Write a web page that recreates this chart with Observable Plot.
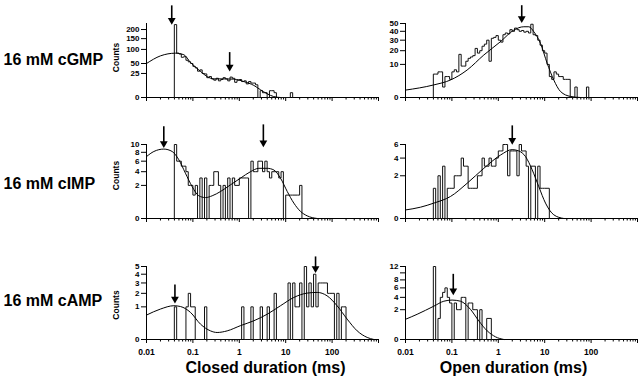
<!DOCTYPE html>
<html><head><meta charset="utf-8">
<script src="https://cdn.jsdelivr.net/npm/d3@7"></script>
<script src="https://cdn.jsdelivr.net/npm/@observablehq/plot@0.6"></script>
<style>
body{margin:0;background:#fff;}
#chart{position:relative;width:640px;height:380px;overflow:hidden;background:#fff;}
#chart svg{position:absolute;overflow:visible;}
</style></head><body><div id="chart"></div>
<script>
// ---- tick labels ----
const xMajor = [0.01, 0.1, 1, 10, 100, 1000];
const xMajorLabels = ["0.01", "0.1", "1", "10", "100", ""];
const yTicksCGMPClosed = [0, 25, 50, 100, 150, 200];
const yTicksCGMPOpen = [0, 10, 20, 30, 40, 50];
const yTicksCIMPClosed = [0, 2, 4, 6, 8, 10];
const yTicksCIMPOpen = [0, 2, 4, 6];
const yTicksCAMPClosed = [0, 1, 2, 3, 4, 5];
const yTicksCAMPOpen = [0, 2, 4, 6, 8, 10, 12];
const rowLabels = ["16 mM cGMP", "16 mM cIMP", "16 mM cAMP"];
const xTitles = ["Closed duration (ms)", "Open duration (ms)"];

// ---- histogram counts (log bins, 20 per decade; first bin index = -28 -> 0.04 ms) ----
const firstBin = -28;
const cGMPClosedCounts = [230,85,82,70,72,60,55,50,42,38,30,33,25,24,17,19,15,13,16,12,14,17,15,12,18,16,10,13,14,11,12,8,11,9,9,7,0,2,1,1,0,2,2,1,0,0,0,0,0,0,1];
const cGMPOpenCounts = [5,5,6,6,1,4,4,3,6,7,6,17,9,9,12,14,15,16,22,18,20,24,26,30,12,32,33,35,30,28,36,38,37,42,40,44,42,40,41,39,40,38,49,36,35,30,25,20,18,10,4,3,6,5,4,4,3,3,3,0,0,1,0,0,0,0,1];
const cIMPClosedCounts = [10,6,6,5,5,4,2,2,1,2,0,3,0,3,0,2,2,4,4,2,0,2,0,3,0,3,2,2,3,3,3,3,0,6,4,4,6,6,4,6,4,3,4,4,4,3,4,0,1,1,1,1,1,1,2];
const cIMPOpenCounts = [1,0,2,0,3,0,1,1,1,2,2,2,4,3,3,1,1,1,1,2,2,4,3,3,4,3,3,4,5,5,6,6,2,5,5,5,2,6,5,5,3,0,3,3,0,3,1,1,1,1];
const cAMPClosedCounts = [1,0,0,0,0,1,2,1,1,0,0,0,0,1,0,0,0,0,0,0,0,0,0,0,0,0,0,0,0,1,0,0,0,1,0,0,0,1,0,0,1,0,0,2,0,0,0,0,0,3,0,3,1,1,3,0,5,1,3,1,4,1,3,3,3,3,2,2,2,0,2,0,1,1];
const cAMPOpenCounts = [12,0,1,4,5,6,4,3,0,3,2,2,4,4,0,3,3,2,2,0,2,0,0,1,1];

// ---- fitted curves (duration ms, counts) ----
const cGMPClosedFitT = [0.01,0.02,0.042,0.064,0.089,0.134,0.203,0.28,0.46,0.76,1.25,2.06,2.86,3.98,5.5,7.7];
const cGMPClosedFitN = [50,75,85,79,53,33,19,15,15,14.6,11,6.3,2.6,0.6,0.04,0];
const cGMPOpenFitT = [0.01,0.0408,0.0934,0.213,0.488,1.11,2.16,3.55,4.55,5.83,8.1,11.3,15.7,21.9,36,59];
const cGMPOpenFitN = [0.5,1.45,2.8,6.9,16.5,28.4,41.5,45.7,45.7,39.5,26.8,10.7,2.8,0.33,0.01,0];
const cIMPClosedFitT = [0.01,0.0144,0.0236,0.0357,0.0498,0.069,0.096,0.134,0.187,0.26,0.394,0.646,1.06,1.74,2.64,3.98,5.55,7.73,10.8,15,20.9,29,47.7];
const cIMPClosedFitN = [7,8.2,8.8,8.2,6.3,3.75,1.87,0.94,0.8,0.94,1.33,2.07,2.97,4.0,4.6,4.6,4.3,2.97,1.33,0.43,0.09,0.013,0];
const cIMPOpenFitT = [0.01,0.021,0.0408,0.093,0.213,0.488,1.11,1.99,2.77,3.86,5.37,7.48,10.4,15.7,25.8];
const cIMPOpenFitN = [0.08,0.14,0.26,0.53,1.36,2.76,4.4,5.2,5.0,4.2,2.6,1.1,0.26,0.015,0];
const cAMPClosedFitT = [0.01,0.02,0.0388,0.054,0.0887,0.146,0.239,0.333,0.548,1.06,2.06,3.99,7.73,15,29,47.7,78,128,211,347,570,794];
const cAMPClosedFitN = [0.56,0.87,1.07,1.02,0.69,0.22,0.07,0.046,0.07,0.18,0.33,0.6,1.07,1.66,2.02,2.08,1.79,1.07,0.39,0.07,0.004,0];
const cAMPOpenFitT = [0.01,0.0178,0.0408,0.067,0.101,0.153,0.251,0.38,0.575,0.87,1.32];
const cAMPOpenFitN = [0.92,1.43,2.5,3.3,3.5,3.3,2.05,0.78,0.17,0.016,0];

// ---- arrows: time constant (ms), arrow top and tip (counts) ----
const cGMPClosedTau = [0.035, 0.62], cGMPClosedArrowTop = [340, 76], cGMPClosedArrowTip = [235, 31.5];
const cGMPOpenTau = [3.2], cGMPOpenArrowTop = [72], cGMPOpenArrowTip = [52];
const cIMPClosedTau = [0.0236, 3.3], cIMPClosedArrowTop = [14.4, 15], cIMPClosedArrowTip = [9.3, 9.5];
const cIMPOpenTau = [2.0], cIMPOpenArrowTop = [8.8], cIMPOpenArrowTip = [6.1];
const cAMPClosedTau = [0.041, 44], cAMPClosedArrowTop = [2.5, 5.94], cAMPClosedArrowTip = [1.27, 4.26];
const cAMPOpenTau = [0.107], cAMPOpenArrowTop = [8.7], cAMPOpenArrowTip = [4.58];

// ---- helpers ----
const FONT = "'Liberation Sans', Arial, Helvetica, sans-serif";
const edge = k => Math.pow(10, k / 20);
function steps(counts) {
  const pts = [{t: edge(firstBin), n: 0}];
  counts.forEach((c, i) => {
    pts.push({t: edge(firstBin + i), n: c});
    pts.push({t: edge(firstBin + i + 1), n: c});
  });
  pts.push({t: edge(firstBin + counts.length), n: 0});
  return pts;
}
const xMinor = [];
for (const d of [0.01, 0.1, 1, 10, 100]) for (let m = 2; m <= 9; m++) xMinor.push(d * m);

const rows = [
  {top: 0, height: 120, mT: 23, mB: 23},
  {top: 120, height: 120, mT: 24, mB: 22},
  {top: 240, height: 140, mT: 26, mB: 41}
];
const cols = [
  {left: 0, width: 380, mL: 146, mR: 2},
  {left: 320, width: 320, mL: 85, mR: 3}
];

const panels = [
  {r: 0, c: 0, yMax: 237, yTicks: yTicksCGMPClosed, counts: cGMPClosedCounts, fitT: cGMPClosedFitT, fitN: cGMPClosedFitN, tau: cGMPClosedTau, aTop: cGMPClosedArrowTop, aTip: cGMPClosedArrowTip, labelDy: -1, countsDy: -3},
  {r: 0, c: 1, yMax: 50, yTicks: yTicksCGMPOpen, counts: cGMPOpenCounts, fitT: cGMPOpenFitT, fitN: cGMPOpenFitN, tau: cGMPOpenTau, aTop: cGMPOpenArrowTop, aTip: cGMPOpenArrowTip},
  {r: 1, c: 0, yMax: 10, yTicks: yTicksCIMPClosed, counts: cIMPClosedCounts, fitT: cIMPClosedFitT, fitN: cIMPClosedFitN, tau: cIMPClosedTau, aTop: cIMPClosedArrowTop, aTip: cIMPClosedArrowTip, labelDy: 2, countsDy: -6},
  {r: 1, c: 1, yMax: 6, yTicks: yTicksCIMPOpen, counts: cIMPOpenCounts, fitT: cIMPOpenFitT, fitN: cIMPOpenFitN, tau: cIMPOpenTau, aTop: cIMPOpenArrowTop, aTip: cIMPOpenArrowTip},
  {r: 2, c: 0, yMax: 5, yTicks: yTicksCAMPClosed, counts: cAMPClosedCounts, fitT: cAMPClosedFitT, fitN: cAMPClosedFitN, tau: cAMPClosedTau, aTop: cAMPClosedArrowTop, aTip: cAMPClosedArrowTip, labelDy: -1.7, countsDy: 2},
  {r: 2, c: 1, yMax: 12, yTicks: yTicksCAMPOpen, counts: cAMPOpenCounts, fitT: cAMPOpenFitT, fitN: cAMPOpenFitN, tau: cAMPOpenTau, aTop: cAMPOpenArrowTop, aTip: cAMPOpenArrowTip, hideTick: 10}
];

const chart = document.getElementById("chart");
for (const p of panels) {
  const row = rows[p.r], col = cols[p.c];
  const bottom = p.r === 2;
  const arrows = p.tau.map((t, i) => ({t, top: p.aTop[i], tip: p.aTip[i]}));
  const fit = p.fitT.map((t, i) => ({t, n: p.fitN[i]}));
  const marks = [
    Plot.ruleY([0], {stroke: "#000", strokeWidth: 1}),
    Plot.ruleX([0.01], {stroke: "#000", strokeWidth: 1}),
    Plot.axisY({ticks: p.yTicks, tickSize: 5, tickPadding: 2, fontSize: 8, fontWeight: "bold", fontFamily: FONT,
      tickFormat: d => (d === p.hideTick ? "" : String(d)), label: null}),
    Plot.axisX({ticks: xMajor, tickSize: 4, tickPadding: 5, fontSize: 8.5, fontWeight: "bold", fontFamily: FONT,
      tickFormat: d => bottom ? xMajorLabels[xMajor.indexOf(d)] : "", label: null}),
    Plot.axisX({ticks: xMinor, tickSize: 2.5, tickFormat: () => "", label: null}),
    Plot.line(steps(p.counts), {x: "t", y: "n", stroke: "#111", strokeWidth: 1}),
    Plot.line(fit, {x: "t", y: "n", stroke: "#000", strokeWidth: 1, curve: "monotone-x"}),
    Plot.ruleX(arrows, {x: "t", y1: "top", y2: "tip", stroke: "#000", strokeWidth: 1.6, dy: -3}),
    Plot.dot(arrows, {x: "t", y: "tip", symbol: "triangle", r: 2.9, fill: "#000", stroke: "none", rotate: 180, dy: -3.6})
  ];
  if (p.c === 0) {
    marks.push(Plot.text([rowLabels[p.r]], {frameAnchor: "left", text: d => d, textAnchor: "start", lineAnchor: "middle", dx: 3 - col.mL, dy: p.labelDy,
      fontSize: 16, fontWeight: "bold", fontFamily: FONT}));
    marks.push(Plot.text(["Counts"], {frameAnchor: "left", text: d => d, rotate: -90, textAnchor: "middle", lineAnchor: "middle", dx: -30, dy: p.countsDy,
      fontSize: 8.5, fontWeight: "bold", fontFamily: FONT}));
  }
  if (bottom) {
    marks.push(Plot.text([xTitles[p.c]], {frameAnchor: "bottom", text: d => d, lineAnchor: "middle", textAnchor: "middle", dy: 28.5, dx: p.c === 0 ? 3 : -8,
      fontSize: 16, fontWeight: "bold", fontFamily: FONT}));
  }
  const svg = Plot.plot({
    width: col.width, height: row.height,
    marginLeft: col.mL, marginRight: col.mR, marginTop: row.mT, marginBottom: row.mB,
    style: {fontFamily: FONT, fontWeight: "bold", fontSize: "8.5px", background: "transparent", overflow: "visible", color: "#000"},
    x: {type: "log", domain: [0.01, 1000]},
    y: {type: "sqrt", domain: [0, p.yMax]},
    marks
  });
  svg.style.left = col.left + "px";
  svg.style.top = row.top + "px";
  chart.appendChild(svg);
}
</script></body></html>
